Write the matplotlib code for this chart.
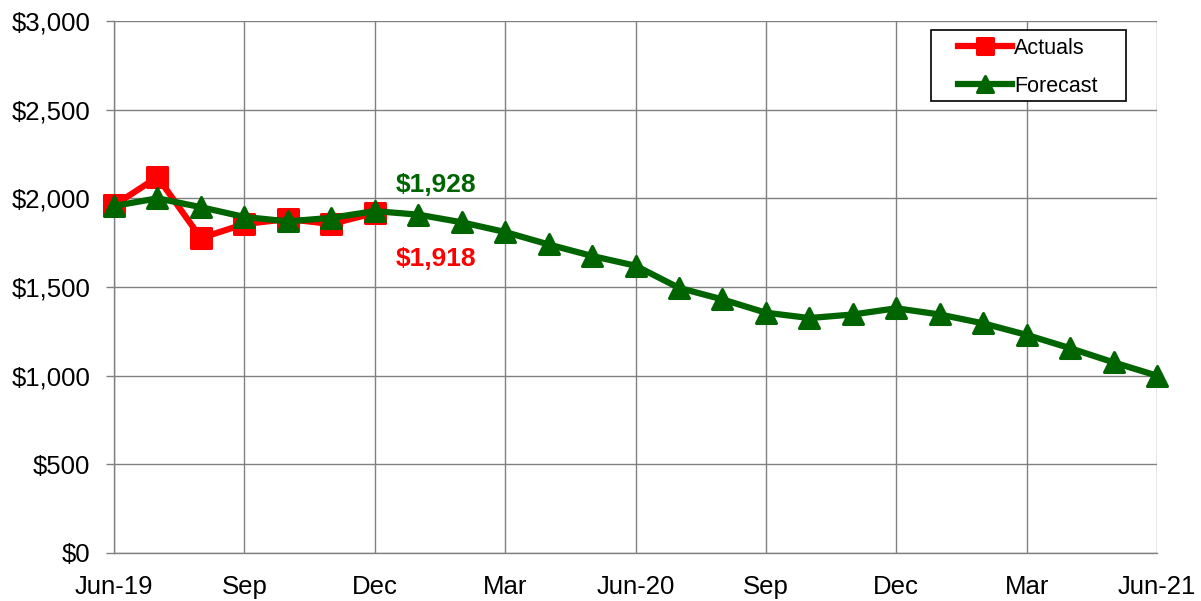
import matplotlib.pyplot as plt
import matplotlib.ticker as ticker
from matplotlib.markers import MarkerStyle
from matplotlib.patches import Rectangle

plt.rcParams.update({"font.family": ["Liberation Sans", "DejaVu Sans"]})

# -- Datos (meses desde Jun-19) --
actual_months = [0, 1, 2, 3, 4, 5, 6]
actuals = [1960, 2120, 1776, 1855, 1883, 1855, 1918]

forecast_months = list(range(25))
forecast = [1957, 2000, 1950, 1895, 1870, 1890, 1928, 1908, 1865, 1810,
            1740, 1675, 1620, 1495, 1430, 1355, 1325, 1345, 1380, 1345,
            1295, 1230, 1155, 1075, 1000]

tick_pos = [0, 3, 6, 9, 12, 15, 18, 21, 24]
tick_labels = ["Jun-19", "Sep", "Dec", "Mar", "Jun-20", "Sep", "Dec", "Mar", "Jun-21"]

RED = "#FF0000"
GREEN = "#006400"

fig = plt.figure(figsize=(12.01, 6.01), dpi=100)
ax = fig.add_axes([114 / 1201, 1 - 553 / 601, 1043 / 1201, 532 / 601])

ax.plot(actual_months, actuals, color=RED, linewidth=4.5,
        marker=MarkerStyle("s", joinstyle="round"),
        markersize=14.5, markeredgewidth=2.2, solid_joinstyle="round",
        label="Actuals", zorder=3, clip_on=False)
ax.plot(forecast_months, forecast, color=GREEN, linewidth=4.5,
        marker=MarkerStyle("^", joinstyle="round"),
        markersize=14.5, markeredgewidth=2.2, solid_joinstyle="round",
        label="Forecast", zorder=4, clip_on=False)

# Etiquetas del ultimo valor real
ax.annotate(f"${forecast[6]:,}", (6, forecast[6]), textcoords="offset points",
            xytext=(44, 10.5), ha="center", va="bottom", fontsize=19,
            fontweight="bold", color=GREEN)
ax.annotate(f"${actuals[6]:,}", (6, actuals[6]), textcoords="offset points",
            xytext=(44, -24.5), ha="center", va="top", fontsize=19,
            fontweight="bold", color=RED)

ax.set_xlim(0, 24)
ax.set_ylim(0, 3000)
ax.set_xticks(tick_pos)
ax.set_xticklabels(tick_labels)
ax.yaxis.set_major_locator(ticker.MultipleLocator(500))
ax.yaxis.set_major_formatter(ticker.FuncFormatter(lambda v, p: f"${v:,.0f}"))
ax.tick_params(axis="x", length=0, pad=16, labelsize=18.5)
ax.tick_params(axis="y", length=6, width=1, color="#808080", pad=11, labelsize=18.5)

ax.grid(True, color="#808080", linewidth=1)
ax.set_axisbelow(True)
for s in ["top", "right"]:
    ax.spines[s].set_visible(False)
for s in ["left", "bottom"]:
    ax.spines[s].set_color("#808080")
    ax.spines[s].set_linewidth(1)

# Leyenda sin marco + caja dibujada aparte (mas ancha, como en el original)
ax.add_patch(Rectangle((0.7833, 0.8496), 0.187, 0.1335, transform=ax.transAxes,
                       facecolor="white", edgecolor="black", linewidth=1.2,
                       zorder=5))
leg = ax.legend(loc="upper left", bbox_to_anchor=(0.8096, 0.9685), fontsize=15.5,
                frameon=False, borderaxespad=0, borderpad=0,
                handlelength=2.5, handletextpad=0.1,
                labelspacing=0.8, markerscale=0.75)
leg.set_zorder(6)

fig.savefig("out.png", dpi=100)
